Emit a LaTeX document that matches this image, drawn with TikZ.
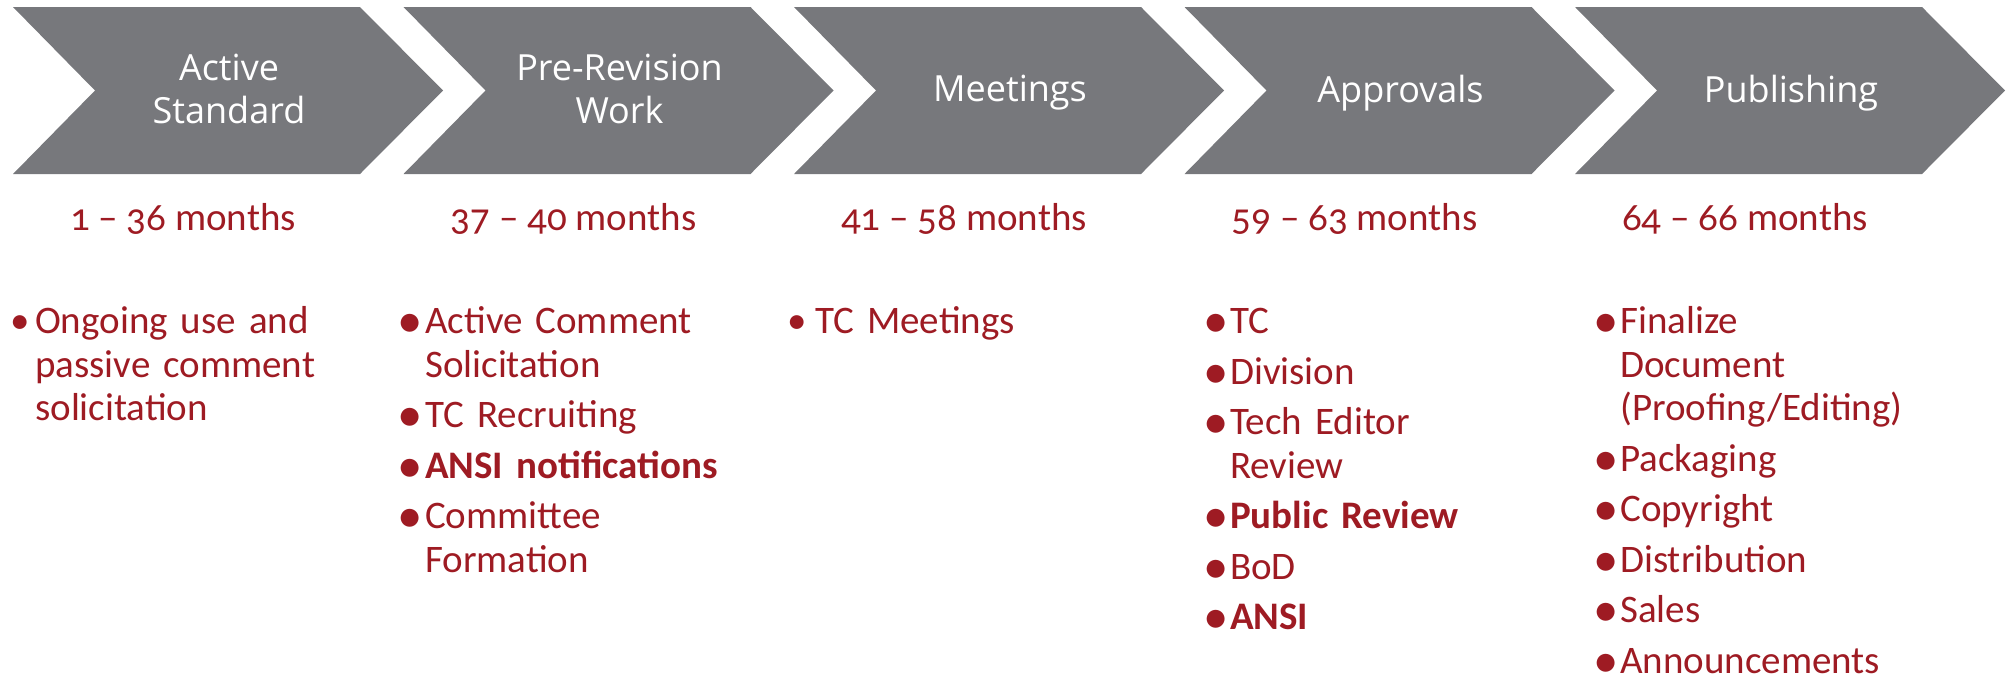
\documentclass[tikz,border=0pt]{standalone}
\usepackage{fontspec}
\usepackage{graphicx}
\setmainfont{Carlito}[Numbers=OldStyle]
\newfontfamily\headfont{Open Sans}
\usetikzlibrary{calc}

\definecolor{chevgray}{RGB}{119,120,124}
\definecolor{stdred}{RGB}{158,27,35}

%Bullet items with hanging indent
\newlength\bulind
\newcommand\bul{\textbullet}
\newcommand\bigbul{\raisebox{-4pt}{\scalebox{1.3}{\textbullet}}}
\newcommand\nl{\hfil\break}
\newcommand\itm[1]{\par\hangindent=\bulind\hangafter=1\noindent\hbox to \bulind{\bul\hss}\rule{0pt}{30pt}#1}
\newcommand\tstrut{\rule[-10pt]{0pt}{36pt}}

\begin{document}
\begin{tikzpicture}[x=1pt,y=-1pt,
     chev/.style={fill=chevgray,draw=none},
     title/.style={font=\headfont\fontsize{36}{43}\selectfont,text=white,align=center,inner sep=0},
     span/.style={font=\fontsize{39}{43.5}\selectfont,text=stdred,anchor=base,inner sep=0},
     list/.style={font=\fontsize{39}{43.5}\selectfont\setlength{\parskip}{7pt},text=stdred,
                  anchor=north west,inner sep=0,text width=420pt,align=left}
     ]
\useasboundingbox (0,0) rectangle (2015,681);

%Left edge of first chevron and distance between chevrons
\def \xs{13}
\def \period{390.5}
\def \ytop{283}

%Chevrons with their titles
\foreach [count=\i] \t in {{\tstrut Active\\\tstrut Standard},{\tstrut Pre-Revision\\\tstrut Work},
                           {\tstrut Meetings},{\tstrut Approvals},{\tstrut Publishing}}
   {
\pgfmathsetmacro{\xo}{\xs+(\i-1)*\period}
\fill[chev] (\xo,7) -- ++(347,0) -- ++(83,83.5) -- ++(-83,83.5) -- ++(-347,0) -- ++(82,-83.5) -- cycle;
   \node[title] (t\i) at (\xo+216,93.5) {\t};
   }

%Months under each chevron
\foreach [count=\i] \m in {1 – 36,37 – 40,41 – 58,59 – 63,64 – 66}
   {
\pgfmathsetmacro{\xo}{\xs+(\i-1)*\period}
   \node[span] (m\i) at (\xo+170,230) {\m{} months};
   }

%Tasks of each stage
\node[list] (l1) at (10,\ytop) {\setlength{\bulind}{25pt}%
   \itm{Ongoing use and\nl passive comment\nl solicitation}\par};
\node[list] (l2) at (397,\ytop) {\setlength{\bulind}{28pt}\let\bul\bigbul
   \itm{Active Comment\nl Solicitation}
   \itm{TC Recruiting}
   \itm{\textbf{ANSI notifications}}
   \itm{Committee\nl Formation}\par};
\node[list] (l3) at (787,\ytop) {\setlength{\bulind}{28pt}%
   \itm{TC Meetings}\par};
\node[list] (l4) at (1203,\ytop) {\setlength{\bulind}{27pt}\let\bul\bigbul
   \itm{TC}
   \itm{Division}
   \itm{Tech Editor\nl Review}
   \itm{\textbf{Public Review}}
   \itm{BoD}
   \itm{\textbf{ANSI}}\par};
\node[list] (l5) at (1593,\ytop) {\setlength{\bulind}{27pt}\let\bul\bigbul
   \itm{Finalize\nl Document\nl (Proofing/Editing)}
   \itm{Packaging}
   \itm{Copyright}
   \itm{Distribution}
   \itm{Sales}
   \itm{Announcements}\par};
\end{tikzpicture}
\end{document}
